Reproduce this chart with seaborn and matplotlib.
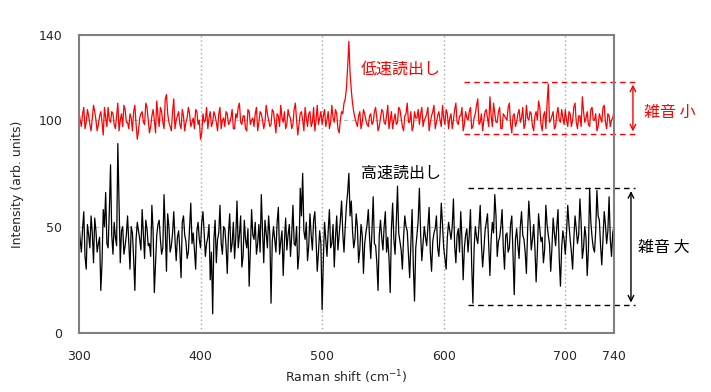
import numpy as np
import pandas as pd
import matplotlib
matplotlib.use("Agg")
import matplotlib.pyplot as plt
import seaborn as sns

# Raman shift axis, every 1 cm-1 from 300 to 740
shift = list(range(300, 741))

# slow readout (red): even shifts 300, 302, ... 740
slow_even = [104, 97, 106, 99, 102, 95, 107, 100, 98, 104, 93, 101, 106, 99, 103, 96, 108, 100, 97, 105,
             99, 103, 95, 107, 91, 101, 104, 98, 106, 94, 102, 100, 109, 97, 104, 96, 112, 99, 95, 110,
             100, 104, 96, 102, 99, 106, 97, 101, 105, 98, 91, 103, 100, 96, 104, 99, 102, 95, 106, 100,
             97, 103, 99, 105, 96, 101, 108, 98, 102, 95, 104, 100, 97, 106, 99, 103, 96, 107, 100, 98,
             104, 94, 102, 107, 99, 96, 105, 101, 98, 108, 93, 103, 100, 106, 97, 104, 99, 95, 107, 101,
             98, 105, 100, 96, 107, 99, 103, 94, 104, 108, 115, 137, 114, 104, 99, 102, 96, 105, 100, 97,
             103, 99, 106, 95, 101, 104, 98, 107, 100, 96, 103, 99, 105, 97, 102, 108, 99, 95, 104, 101,
             98, 106, 100, 103, 95, 102, 107, 99, 104, 97, 101, 105, 96, 103, 100, 108, 98, 102, 95, 104,
             100, 106, 97, 103, 110, 99, 95, 104, 101, 111, 97, 103, 99, 106, 96, 102, 100, 108, 94, 103,
             99, 105, 101, 96, 107, 100, 103, 95, 104, 109, 98, 102, 96, 117, 100, 104, 97, 106, 99, 101,
             105, 97, 103, 100, 108, 96, 102, 111, 99, 104, 97, 106, 100, 95, 103, 99, 107, 96, 102, 100,
             104]
# odd shifts 301, 303, ... 739
slow_odd = [100, 103, 96, 105, 98, 101, 104, 95, 102, 99, 106, 97, 100, 104, 98, 102, 95, 103, 107, 99,
            96, 101, 104, 98, 95, 103, 99, 108, 100, 97, 105, 94, 102, 106, 99, 110, 103, 97, 104, 96,
            102, 98, 105, 95, 101, 103, 99, 96, 104, 100, 94, 99, 106, 101, 97, 104, 99, 103, 96, 101,
            104, 98, 101, 96, 103, 106, 99, 102, 96, 105, 98, 101, 103, 95, 104, 100, 99, 103, 97, 105,
            99, 103, 97, 101, 104, 98, 102, 96, 105, 100, 98, 104, 95, 101, 103, 97, 106, 100, 98, 104,
            102, 97, 104, 99, 101, 105, 96, 100, 103, 110, 125, 122, 108, 101, 97, 104, 99, 103, 98, 102,
            98, 104, 101, 97, 105, 99, 102, 96, 104, 100, 98, 106, 101, 95, 103, 99, 104, 97, 101, 105,
            103, 97, 101, 106, 99, 104, 96, 102, 100, 107, 98, 103, 101, 96, 105, 99, 102, 106, 98, 101,
            104, 96, 101, 107, 98, 103, 100, 105, 97, 102, 108, 99, 104, 96, 103, 101, 106, 98, 102, 97,
            103, 99, 106, 98, 101, 104, 97, 102, 100, 106, 95, 104, 108, 99, 102, 96, 103, 100, 105, 98,
            100, 104, 97, 106, 99, 102, 97, 104, 101, 98, 105, 100, 103, 97, 101, 106, 99, 103, 97, 101]

# fast readout (black): even shifts
fast_even = [52, 38, 57, 30, 46, 55, 33, 48, 42, 20, 58, 66, 40, 79, 37, 45, 89, 33, 50, 41,
             55, 30, 47, 20, 52, 44, 58, 35, 49, 42, 60, 19, 46, 53, 37, 65, 29, 50, 41, 57,
             34, 48, 26, 55, 43, 38, 61, 47, 30, 52, 40, 57, 36, 45, 25, 9, 53, 44, 60, 37,
             49, 28, 56, 42, 35, 62, 46, 31, 53, 40, 22, 58, 44, 37, 51, 65, 33, 47, 55, 14,
             50, 38, 59, 43, 27, 54, 46, 36, 60, 41, 30, 68, 75, 44, 34, 56, 39, 57, 29, 48,
             11, 52, 36, 58, 42, 31, 55, 46, 62, 38, 60, 75, 62, 40, 56, 33, 51, 28, 47, 58,
             35, 64, 41, 20, 53, 39, 57, 45, 19, 61, 37, 69, 43, 30, 55, 48, 26, 58, 15, 46,
             68, 34, 50, 41, 59, 29, 47, 55, 36, 61, 40, 30, 52, 44, 63, 33, 49, 57, 25, 46,
             38, 58, 14, 50, 42, 60, 31, 48, 56, 27, 52, 65, 36, 45, 58, 30, 47, 40, 55, 18,
             49, 35, 57, 44, 28, 62, 39, 51, 24, 56, 43, 33, 60, 46, 29, 54, 41, 58, 22, 48,
             37, 60, 44, 30, 55, 42, 63, 35, 50, 27, 68, 45, 38, 67, 53, 32, 57, 42, 64, 36,
             50]
# odd shifts
fast_odd = [44, 49, 36, 51, 40, 47, 54, 38, 45, 33, 50, 42, 57, 46, 52, 41, 60, 48, 37, 46,
            42, 50, 35, 44, 48, 39, 46, 53, 41, 36, 48, 33, 51, 44, 40, 49, 56, 38, 47, 44,
            45, 39, 52, 46, 35, 50, 42, 39, 48, 44, 52, 47, 42, 51, 38, 44, 33, 47, 42, 50,
            41, 47, 38, 52, 45, 40, 55, 36, 44, 49, 39, 46, 52, 42, 38, 48, 53, 40, 46, 43,
            44, 52, 37, 48, 43, 39, 51, 46, 42, 50, 37, 55, 48, 52, 41, 46, 53, 44, 38, 42,
            34, 44, 48, 40, 51, 45, 39, 53, 47, 50, 66, 55, 48, 44, 50, 39, 46, 42, 51, 45,
            48, 42, 33, 46, 45, 50, 38, 35, 49, 44, 52, 47, 39, 45, 50, 37, 42, 32, 40, 53,
            47, 42, 45, 50, 38, 43, 49, 40, 46, 51, 35, 45, 48, 50, 41, 46, 38, 44, 40, 49,
            46, 32, 40, 45, 50, 42, 39, 52, 41, 44, 47, 55, 43, 50, 40, 46, 38, 51, 37, 44,
            41, 50, 46, 38, 48, 52, 44, 40, 38, 49, 45, 39, 51, 42, 40, 47, 50, 35, 40, 44,
            47, 51, 38, 44, 49, 46, 52, 40, 45, 39, 52, 40, 48, 55, 41, 45, 51, 48, 44, 47]

yticks = [0, 50, 100, 140]
xticks = [300, 400, 500, 600, 700, 740]

slow = np.empty(len(shift))
slow[0::2] = slow_even
slow[1::2] = slow_odd
fast = np.empty(len(shift))
fast[0::2] = fast_even
fast[1::2] = fast_odd
df = pd.DataFrame({"shift": shift, "slow": slow, "fast": fast})

sns.set_style("white")
plt.rcParams['font.family'] = ['DejaVu Sans', 'Noto Sans CJK JP']
jp = ['Noto Sans CJK JP', 'DejaVu Sans']

fig = plt.figure(figsize=(7.11, 3.92), dpi=100)
ax = fig.add_axes([0.111, 0.1505, 0.7525, 0.7602])

for v in [400, 500, 600, 700]:
    ax.axvline(v, color='#a6a6a6', lw=1, ls=(0, (1, 2)), zorder=0)
for v in [50, 100]:
    ax.axhline(v, color='#c0c0c0', lw=0.8, ls=(0, (4, 3)), zorder=0)

sns.lineplot(data=df, x="shift", y="fast", color='black', lw=0.9, ax=ax)
sns.lineplot(data=df, x="shift", y="slow", color='red', lw=0.9, ax=ax)

ax.set_xlim(300, 740)
ax.set_ylim(0, 140)
ax.set_xticks(xticks)
ax.set_yticks(yticks)
ax.tick_params(labelsize=9, length=0, pad=12)
ax.set_xlabel("Raman shift (cm$^{-1}$)", fontsize=9, labelpad=4)
ax.set_ylabel("Intensity (arb. units)", fontsize=9, labelpad=10)
for s in ax.spines.values():
    s.set_color('#808080')
    s.set_linewidth(1.5)

# labels for the two traces
ax.text(532, 124, "低速読出し", color='red', fontsize=11.5, family=jp, va='center')
ax.text(532, 75, "高速読出し", color='black', fontsize=11.5, family=jp, va='center')

# noise range markers
ax.plot([617, 759], [118, 118], color='red', lw=1, ls=(0, (4, 3)), clip_on=False)
ax.plot([617, 759], [93.4, 93.4], color='red', lw=1, ls=(0, (4, 3)), clip_on=False)
ax.annotate("", xy=(755.6, 118), xytext=(755.6, 93.4),
            arrowprops=dict(arrowstyle='<->', color='red', lw=1), annotation_clip=False)
ax.text(765, 103.8, "雑音 小", color='red', fontsize=11.5, family=jp, va='center', clip_on=False)

ax.plot([620, 757], [68, 68], color='black', lw=1, ls=(0, (4, 3)), clip_on=False)
ax.plot([620, 757], [13, 13], color='black', lw=1, ls=(0, (4, 3)), clip_on=False)
ax.annotate("", xy=(754, 68), xytext=(754, 13),
            arrowprops=dict(arrowstyle='<->', color='black', lw=1), annotation_clip=False)
ax.text(760, 40.4, "雑音 大", color='black', fontsize=11.5, family=jp, va='center', clip_on=False)

fig.savefig("out.png", dpi=100)
